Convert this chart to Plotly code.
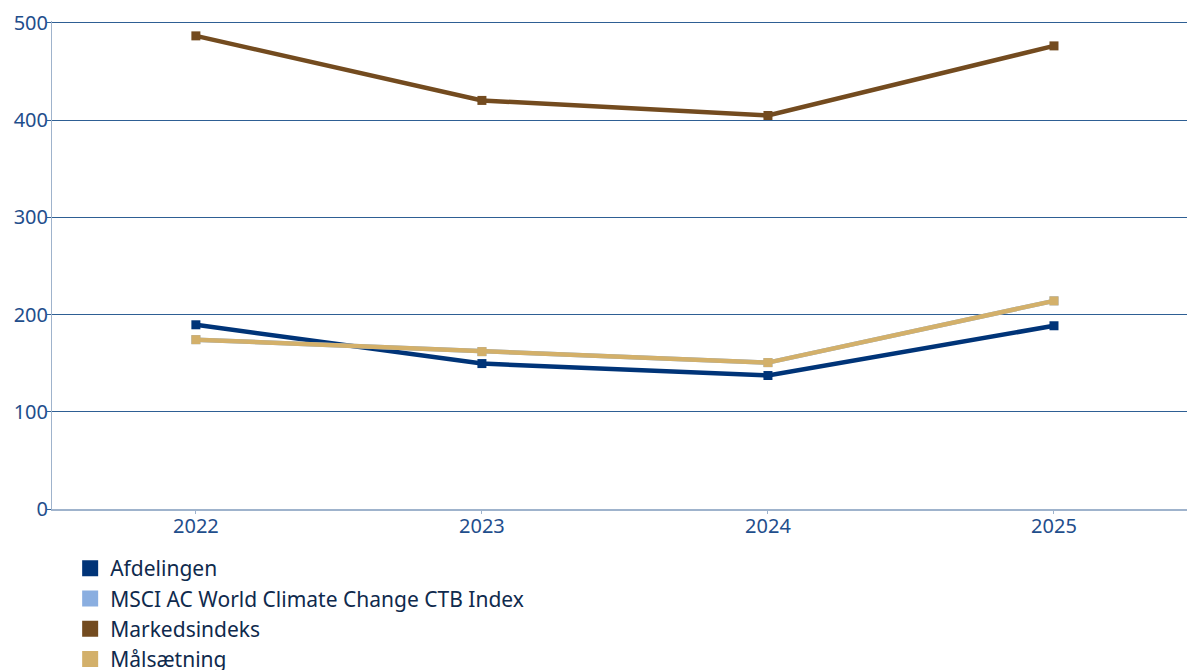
import plotly.graph_objects as go

years = ["2022", "2023", "2024", "2025"]
afdelingen = [189.5, 149.6, 137.3, 188.5]
msci = [174.2, 161.9, 150.6, 214.1]
markedsindeks = [486.7, 420.3, 404.8, 476.4]
maalsaetning = [174.2, 161.9, 150.6, 214.1]

series = [
    ("Afdelingen", afdelingen, "#003478"),
    ("MSCI AC World Climate Change CTB Index", msci, "#8aaee0"),
    ("Markedsindeks", markedsindeks, "#734b1f"),
    ("Målsætning", maalsaetning, "#d3b06a"),
]

fig = go.Figure()
for name, vals, col in series:
    fig.add_trace(go.Scatter(
        x=years, y=vals, mode="lines+markers", name=name, showlegend=False,
        line=dict(color=col, width=4.5),
        marker=dict(symbol="square", size=9, color=col),
    ))
for name, vals, col in series:
    fig.add_trace(go.Scatter(
        x=[None], y=[None], mode="markers", name=name,
        marker=dict(symbol="square", size=22, color=col),
    ))

fig.update_layout(
    width=1187, height=670,
    margin=dict(l=52, r=0, t=21, b=161, autoexpand=False),
    plot_bgcolor="white", paper_bgcolor="white",
    font=dict(family="Noto Sans", color="#1f4e8c"),
    legend=dict(
        orientation="v", x=0.016, xanchor="left", y=-0.08, yanchor="top",
        font=dict(size=21, color="#0f2a4d"), itemsizing="trace",
        tracegroupgap=0,
    ),
    xaxis=dict(
        type="category", range=[-0.503, 3.465], automargin=False,
        showline=True, linecolor="#9fb3cc", linewidth=1.5,
        ticks="outside", tickcolor="#9fb3cc", ticklen=3,
        ticklabelstandoff=-5,
        tickfont=dict(size=20, color="#1f4e8c"), showgrid=False,
    ),
    yaxis=dict(
        range=[0, 502], tickvals=[0, 100, 200, 300, 400, 500], automargin=False,
        showline=True, linecolor="#9fb3cc", linewidth=1,
        ticks="outside", tickcolor="#2e5f94", ticklen=4,
        ticklabelstandoff=-5,
        gridcolor="#2e5f94", gridwidth=1,
        tickfont=dict(size=20, color="#1f4e8c"), zeroline=False,
    ),
)

fig.write_html(
    "out.html",
    config={"displayModeBar": False},
    post_script="document.body.style.margin='0px';document.body.style.overflow='hidden';",
)
